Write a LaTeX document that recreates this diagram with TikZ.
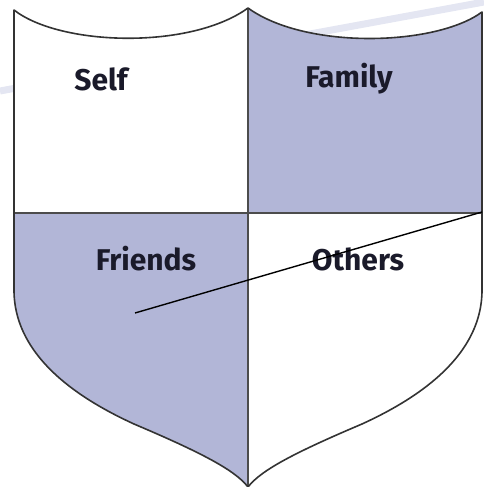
\documentclass[tikz,border=0pt]{standalone}
\usepackage{fontspec}
\setmainfont{Fira Sans}
\usepackage{xcolor}
\usepackage{tikz}
\usetikzlibrary{positioning}
\definecolor{shieldfill}{HTML}{B2B6D7}
\definecolor{shieldtext}{HTML}{1A1A2A}
\definecolor{streak}{HTML}{E4E6F2}

\begin{document}
\begin{tikzpicture}[
    x=1pt, y=-1pt,
    label/.style={font=\fontsize{30}{32}\selectfont\bfseries, text=shieldtext, inner sep=0pt},
    edge/.style={draw=black!80, line width=1.6pt, line join=round},
    divider/.style={draw=black!70, line width=2.2pt},
    pointer/.style={draw=black, line width=1.4pt}]
    \useasboundingbox (0,0) rectangle (484,487);
    % faint streak behind the shield
    \draw[streak, line width=7pt] (0,91) -- (484,2);
    % shield outline as a reusable path
    \def\shieldpath{(14,10) .. controls (60,46) and (190,50) .. (248,8)
      .. controls (306,50) and (436,46) .. (482,12)
      -- (482,290) .. controls (482,360) and (410,402) .. (362,424)
      .. controls (296,452) and (261,470) .. (248,487)
      .. controls (235,470) and (200,452) .. (134,424)
      .. controls (86,402) and (14,360) .. (14,290) -- cycle}
    \begin{scope}
      \clip \shieldpath;
      \fill[white] (0,0) rectangle (484,487);
      \fill[shieldfill] (248,0) rectangle (484,213);
      \fill[shieldfill] (0,213) rectangle (248,487);
    \end{scope}
    \draw[divider] (248,8) -- (248,487);
    \draw[divider] (14,213) -- (482,213);
    \draw[edge] \shieldpath;
    % quadrant labels
    \node[label] (self)    at (101,79)  {Self};
    \node[label] (family)  at (349,79)  {Family};
    \node[label] (friends) at (146,259) {Friends};
    \node[label] (others)  at (358,259) {Others};
    % stray pointer line
    \coordinate (tail) at (135,313);
    \coordinate (head) at (482,212);
    \draw[pointer] (tail) -- (head);
\end{tikzpicture}
\end{document}
